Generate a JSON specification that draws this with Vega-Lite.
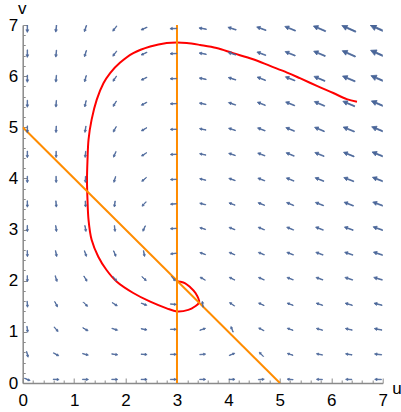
{
  "$schema": "https://vega.github.io/schema/vega-lite/v6.json",
  "width": 360,
  "height": 358,
  "autosize": "none",
  "padding": {"left": 22.7, "top": 25, "right": 18.3, "bottom": 29},
  "config": {"view": {"stroke": null}, "font": "Liberation Sans"},
  "resolve": {"axis": {"x": "independent", "y": "independent"}},
  "datasets": {
    "traj": [
      {"t": 1, "u": 6.5, "v": 5.5}, {"t": 2, "u": 6.3, "v": 5.55}, {"t": 3, "u": 6.04, "v": 5.67}, {"t": 4, "u": 5.72, "v": 5.81},
      {"t": 5, "u": 5.39, "v": 5.96}, {"t": 6, "u": 5.14, "v": 6.07}, {"t": 7, "u": 4.81, "v": 6.2}, {"t": 8, "u": 4.48, "v": 6.33},
      {"t": 9, "u": 4.09, "v": 6.45}, {"t": 10, "u": 3.77, "v": 6.55}, {"t": 11, "u": 3.45, "v": 6.61}, {"t": 12, "u": 3.19, "v": 6.65},
      {"t": 13, "u": 3.0, "v": 6.66}, {"t": 14, "u": 2.8, "v": 6.65}, {"t": 15, "u": 2.48, "v": 6.58}, {"t": 16, "u": 2.15, "v": 6.45},
      {"t": 17, "u": 1.89, "v": 6.26}, {"t": 18, "u": 1.7, "v": 6.06}, {"t": 19, "u": 1.57, "v": 5.86}, {"t": 20, "u": 1.44, "v": 5.54},
      {"t": 21, "u": 1.34, "v": 5.15}, {"t": 22, "u": 1.28, "v": 4.76}, {"t": 23, "u": 1.26, "v": 4.36}, {"t": 24, "u": 1.25, "v": 3.97},
      {"t": 25, "u": 1.26, "v": 3.58}, {"t": 26, "u": 1.28, "v": 3.19}, {"t": 27, "u": 1.34, "v": 2.8}, {"t": 28, "u": 1.47, "v": 2.47},
      {"t": 29, "u": 1.63, "v": 2.21}, {"t": 30, "u": 1.83, "v": 1.98}, {"t": 31, "u": 2.15, "v": 1.76}, {"t": 32, "u": 2.48, "v": 1.59},
      {"t": 33, "u": 2.8, "v": 1.46}, {"t": 34, "u": 3.0, "v": 1.4}, {"t": 35, "u": 3.22, "v": 1.43}, {"t": 36, "u": 3.34, "v": 1.49},
      {"t": 37, "u": 3.43, "v": 1.58}, {"t": 38, "u": 3.36, "v": 1.76}, {"t": 39, "u": 3.25, "v": 1.88}, {"t": 40, "u": 3.16, "v": 1.95},
      {"t": 41, "u": 3.06, "v": 1.98}, {"t": 42, "u": 2.99, "v": 1.99}
    ],
    "nullclines": [
      {"line": "a", "t": 1, "u": 0, "v": 5}, {"line": "a", "t": 2, "u": 5, "v": 0},
      {"line": "b", "t": 1, "u": 3, "v": 0}, {"line": "b", "t": 2, "u": 3, "v": 7}
    ],
    "field": [
      {"u":0.09,"v":0.07,"angle":112,"speed":0.5},{"u":0.09,"v":0.56,"angle":166,"speed":1.6},{"u":0.09,"v":1.05,"angle":173,"speed":3.1},{"u":0.09,"v":1.54,"angle":176,"speed":4.5},{"u":0.09,"v":2.04,"angle":178,"speed":5.9},{"u":0.09,"v":2.53,"angle":178,"speed":7.3},{"u":0.09,"v":3.02,"angle":179,"speed":8.8},{"u":0.09,"v":3.5,"angle":179,"speed":10.2},{"u":0.09,"v":3.98,"angle":180,"speed":11.6},{"u":0.09,"v":4.47,"angle":180,"speed":13.0},{"u":0.09,"v":4.96,"angle":180,"speed":14.5},{"u":0.09,"v":5.46,"angle":180,"speed":15.9},{"u":0.09,"v":5.95,"angle":180,"speed":17.3},{"u":0.09,"v":6.44,"angle":180,"speed":18.8},{"u":0.09,"v":6.93,"angle":180,"speed":20.2},
      {"u":0.65,"v":0.07,"angle":93,"speed":2.8},{"u":0.65,"v":0.56,"angle":118,"speed":2.8},{"u":0.65,"v":1.05,"angle":139,"speed":3.3},{"u":0.65,"v":1.54,"angle":153,"speed":4.0},{"u":0.65,"v":2.04,"angle":163,"speed":5.0},{"u":0.65,"v":2.53,"angle":169,"speed":6.0},{"u":0.65,"v":3.02,"angle":173,"speed":7.1},{"u":0.65,"v":3.5,"angle":176,"speed":8.2},{"u":0.65,"v":3.98,"angle":179,"speed":9.4},{"u":0.65,"v":4.47,"angle":-180,"speed":10.5},{"u":0.65,"v":4.96,"angle":-178,"speed":11.7},{"u":0.65,"v":5.46,"angle":-177,"speed":12.9},{"u":0.65,"v":5.95,"angle":-176,"speed":14.0},{"u":0.65,"v":6.44,"angle":-175,"speed":15.2},{"u":0.65,"v":6.93,"angle":-174,"speed":16.4},
      {"u":1.22,"v":0.07,"angle":91,"speed":4.5},{"u":1.22,"v":0.56,"angle":104,"speed":4.1},{"u":1.22,"v":1.05,"angle":119,"speed":3.8},{"u":1.22,"v":1.54,"angle":135,"speed":3.9},{"u":1.22,"v":2.04,"angle":149,"speed":4.2},{"u":1.22,"v":2.53,"angle":161,"speed":4.7},{"u":1.22,"v":3.02,"angle":170,"speed":5.4},{"u":1.22,"v":3.5,"angle":177,"speed":6.2},{"u":1.22,"v":3.98,"angle":-178,"speed":7.1},{"u":1.22,"v":4.47,"angle":-174,"speed":8.0},{"u":1.22,"v":4.96,"angle":-171,"speed":9.0},{"u":1.22,"v":5.46,"angle":-168,"speed":9.9},{"u":1.22,"v":5.95,"angle":-166,"speed":10.9},{"u":1.22,"v":6.44,"angle":-164,"speed":11.9},{"u":1.22,"v":6.93,"angle":-163,"speed":12.9},
      {"u":1.79,"v":0.07,"angle":91,"speed":5.6},{"u":1.79,"v":0.56,"angle":98,"speed":4.8},{"u":1.79,"v":1.05,"angle":108,"speed":4.1},{"u":1.79,"v":1.54,"angle":122,"speed":3.5},{"u":1.79,"v":2.04,"angle":139,"speed":3.2},{"u":1.79,"v":2.53,"angle":158,"speed":3.3},{"u":1.79,"v":3.02,"angle":174,"speed":3.7},{"u":1.79,"v":3.5,"angle":-173,"speed":4.3},{"u":1.79,"v":3.98,"angle":-164,"speed":5.0},{"u":1.79,"v":4.47,"angle":-157,"speed":5.9},{"u":1.79,"v":4.96,"angle":-152,"speed":6.8},{"u":1.79,"v":5.46,"angle":-149,"speed":7.7},{"u":1.79,"v":5.95,"angle":-146,"speed":8.7},{"u":1.79,"v":6.44,"angle":-143,"speed":9.7},{"u":1.79,"v":6.93,"angle":-142,"speed":10.7},
      {"u":2.36,"v":0.07,"angle":90,"speed":6.1},{"u":2.36,"v":0.56,"angle":94,"speed":4.9},{"u":2.36,"v":1.05,"angle":100,"speed":3.8},{"u":2.36,"v":1.54,"angle":111,"speed":2.8},{"u":2.36,"v":2.04,"angle":132,"speed":1.9},{"u":2.36,"v":2.53,"angle":170,"speed":1.6},{"u":2.36,"v":3.02,"angle":-156,"speed":2.1},{"u":2.36,"v":3.5,"angle":-138,"speed":3.0},{"u":2.36,"v":3.98,"angle":-129,"speed":4.1},{"u":2.36,"v":4.47,"angle":-123,"speed":5.2},{"u":2.36,"v":4.96,"angle":-120,"speed":6.4},{"u":2.36,"v":5.46,"angle":-118,"speed":7.5},{"u":2.36,"v":5.95,"angle":-116,"speed":8.7},{"u":2.36,"v":6.44,"angle":-115,"speed":9.9},{"u":2.36,"v":6.93,"angle":-114,"speed":11.1},
      {"u":2.93,"v":0.07,"angle":90,"speed":5.9},{"u":2.93,"v":0.56,"angle":90,"speed":4.5},{"u":2.93,"v":1.05,"angle":91,"speed":3.0},{"u":2.93,"v":1.54,"angle":94,"speed":1.6},{"u":2.93,"v":2.04,"angle":141,"speed":0.2},{"u":2.93,"v":2.53,"angle":-98,"speed":1.3},{"u":2.93,"v":3.02,"angle":-94,"speed":2.8},{"u":2.93,"v":3.5,"angle":-93,"speed":4.2},{"u":2.93,"v":3.98,"angle":-93,"speed":5.6},{"u":2.93,"v":4.47,"angle":-93,"speed":7.1},{"u":2.93,"v":4.96,"angle":-92,"speed":8.5},{"u":2.93,"v":5.46,"angle":-92,"speed":9.9},{"u":2.93,"v":5.95,"angle":-92,"speed":11.4},{"u":2.93,"v":6.44,"angle":-92,"speed":12.8},{"u":2.93,"v":6.93,"angle":-92,"speed":14.3},
      {"u":3.5,"v":0.07,"angle":90,"speed":5.0},{"u":3.5,"v":0.56,"angle":85,"speed":3.3},{"u":3.5,"v":1.05,"angle":72,"speed":1.7},{"u":3.5,"v":1.54,"angle":-8,"speed":0.8},{"u":3.5,"v":2.04,"angle":-61,"speed":2.1},{"u":3.5,"v":2.53,"angle":-71,"speed":3.8},{"u":3.5,"v":3.02,"angle":-74,"speed":5.5},{"u":3.5,"v":3.5,"angle":-76,"speed":7.2},{"u":3.5,"v":3.98,"angle":-77,"speed":8.9},{"u":3.5,"v":4.47,"angle":-78,"speed":10.7},{"u":3.5,"v":4.96,"angle":-78,"speed":12.4},{"u":3.5,"v":5.46,"angle":-79,"speed":14.1},{"u":3.5,"v":5.95,"angle":-79,"speed":15.9},{"u":3.5,"v":6.44,"angle":-80,"speed":17.6},{"u":3.5,"v":6.93,"angle":-80,"speed":19.4},
      {"u":4.07,"v":0.07,"angle":89,"speed":3.5},{"u":4.07,"v":0.56,"angle":69,"speed":1.7},{"u":4.07,"v":1.05,"angle":-22,"speed":1.2},{"u":4.07,"v":1.54,"angle":-56,"speed":2.9},{"u":4.07,"v":2.04,"angle":-64,"speed":5.0},{"u":4.07,"v":2.53,"angle":-67,"speed":7.0},{"u":4.07,"v":3.02,"angle":-69,"speed":9.1},{"u":4.07,"v":3.5,"angle":-70,"speed":11.1},{"u":4.07,"v":3.98,"angle":-71,"speed":13.2},{"u":4.07,"v":4.47,"angle":-72,"speed":15.2},{"u":4.07,"v":4.96,"angle":-72,"speed":17.3},{"u":4.07,"v":5.46,"angle":-72,"speed":19.3},{"u":4.07,"v":5.95,"angle":-73,"speed":21.4},{"u":4.07,"v":6.44,"angle":-73,"speed":23.5},{"u":4.07,"v":6.93,"angle":-73,"speed":25.6},
      {"u":4.64,"v":0.07,"angle":86,"speed":1.4},{"u":4.64,"v":0.56,"angle":-44,"speed":1.3},{"u":4.64,"v":1.05,"angle":-62,"speed":3.6},{"u":4.64,"v":1.54,"angle":-65,"speed":6.0},{"u":4.64,"v":2.04,"angle":-67,"speed":8.4},{"u":4.64,"v":2.53,"angle":-68,"speed":10.8},{"u":4.64,"v":3.02,"angle":-68,"speed":13.3},{"u":4.64,"v":3.5,"angle":-69,"speed":15.7},{"u":4.64,"v":3.98,"angle":-69,"speed":18.1},{"u":4.64,"v":4.47,"angle":-69,"speed":20.5},{"u":4.64,"v":4.96,"angle":-69,"speed":22.9},{"u":4.64,"v":5.46,"angle":-69,"speed":25.3},{"u":4.64,"v":5.95,"angle":-69,"speed":27.7},{"u":4.64,"v":6.44,"angle":-70,"speed":30.2},{"u":4.64,"v":6.93,"angle":-70,"speed":32.6},
      {"u":5.2,"v":0.07,"angle":-84,"speed":1.4},{"u":5.2,"v":0.56,"angle":-73,"speed":4.1},{"u":5.2,"v":1.05,"angle":-71,"speed":6.8},{"u":5.2,"v":1.54,"angle":-70,"speed":9.6},{"u":5.2,"v":2.04,"angle":-69,"speed":12.4},{"u":5.2,"v":2.53,"angle":-69,"speed":15.2},{"u":5.2,"v":3.02,"angle":-68,"speed":18.0},{"u":5.2,"v":3.5,"angle":-68,"speed":20.7},{"u":5.2,"v":3.98,"angle":-68,"speed":23.5},{"u":5.2,"v":4.47,"angle":-68,"speed":26.3},{"u":5.2,"v":4.96,"angle":-68,"speed":29.0},{"u":5.2,"v":5.46,"angle":-68,"speed":31.8},{"u":5.2,"v":5.95,"angle":-68,"speed":34.6},{"u":5.2,"v":6.44,"angle":-68,"speed":37.4},{"u":5.2,"v":6.93,"angle":-68,"speed":40.2},
      {"u":5.77,"v":0.07,"angle":-88,"speed":4.8},{"u":5.77,"v":0.56,"angle":-79,"speed":7.8},{"u":5.77,"v":1.05,"angle":-75,"speed":10.8},{"u":5.77,"v":1.54,"angle":-72,"speed":13.9},{"u":5.77,"v":2.04,"angle":-71,"speed":17.1},{"u":5.77,"v":2.53,"angle":-70,"speed":20.2},{"u":5.77,"v":3.02,"angle":-69,"speed":23.4},{"u":5.77,"v":3.5,"angle":-69,"speed":26.5},{"u":5.77,"v":3.98,"angle":-68,"speed":29.6},{"u":5.77,"v":4.47,"angle":-68,"speed":32.7},{"u":5.77,"v":4.96,"angle":-67,"speed":35.9},{"u":5.77,"v":5.46,"angle":-67,"speed":39.0},{"u":5.77,"v":5.95,"angle":-67,"speed":42.1},{"u":5.77,"v":6.44,"angle":-67,"speed":45.3},{"u":5.77,"v":6.93,"angle":-67,"speed":48.5},
      {"u":6.34,"v":0.07,"angle":-89,"speed":8.9},{"u":6.34,"v":0.56,"angle":-81,"speed":12.1},{"u":6.34,"v":1.05,"angle":-77,"speed":15.5},{"u":6.34,"v":1.54,"angle":-74,"speed":18.9},{"u":6.34,"v":2.04,"angle":-72,"speed":22.4},{"u":6.34,"v":2.53,"angle":-71,"speed":25.9},{"u":6.34,"v":3.02,"angle":-70,"speed":29.4},{"u":6.34,"v":3.5,"angle":-69,"speed":32.8},{"u":6.34,"v":3.98,"angle":-69,"speed":36.3},{"u":6.34,"v":4.47,"angle":-68,"speed":39.8},{"u":6.34,"v":4.96,"angle":-68,"speed":43.3},{"u":6.34,"v":5.46,"angle":-67,"speed":46.8},{"u":6.34,"v":5.95,"angle":-67,"speed":50.3},{"u":6.34,"v":6.44,"angle":-66,"speed":53.9},{"u":6.34,"v":6.93,"angle":-66,"speed":57.4},
      {"u":6.91,"v":0.07,"angle":-89,"speed":13.6},{"u":6.91,"v":0.56,"angle":-83,"speed":17.1},{"u":6.91,"v":1.05,"angle":-79,"speed":20.8},{"u":6.91,"v":1.54,"angle":-76,"speed":24.5},{"u":6.91,"v":2.04,"angle":-74,"speed":28.4},{"u":6.91,"v":2.53,"angle":-72,"speed":32.2},{"u":6.91,"v":3.02,"angle":-71,"speed":36.0},{"u":6.91,"v":3.5,"angle":-70,"speed":39.8},{"u":6.91,"v":3.98,"angle":-69,"speed":43.7},{"u":6.91,"v":4.47,"angle":-68,"speed":47.5},{"u":6.91,"v":4.96,"angle":-68,"speed":51.4},{"u":6.91,"v":5.46,"angle":-67,"speed":55.2},{"u":6.91,"v":5.95,"angle":-67,"speed":59.1},{"u":6.91,"v":6.44,"angle":-66,"speed":63.0},{"u":6.91,"v":6.93,"angle":-66,"speed":66.9}
    ]
  },
  "layer": [
    {
      "data": {"name": "traj"},
      "mark": {"type": "line", "color": "#ff0000", "strokeWidth": 2, "interpolate": "catmull-rom", "clip": true},
      "encoding": {
        "x": {
          "field": "u", "type": "quantitative",
          "scale": {"domain": [0, 7], "nice": false, "zero": false},
          "axis": {
            "orient": "bottom",
            "values": [0, 1, 2, 3, 4, 5, 6, 7],
            "format": "d",
            "labelOverlap": false, "labelFlush": false, "grid": false,
            "tickSize": -5,
            "tickColor": "#8a8a8a", "tickWidth": 1, "domainColor": "#8a8a8a", "domainWidth": 1.5,
            "labelFontSize": 17, "labelColor": "#000000", "labelPadding": 14,
            "title": "u", "titleX": 369, "titleY": 10.5, "titleAlign": "left", "titleBaseline": "alphabetic",
            "titleFontSize": 17, "titleFontWeight": "normal", "titleColor": "#000000"
          }
        },
        "y": {
          "field": "v", "type": "quantitative",
          "scale": {"domain": [0, 7], "nice": false, "zero": false},
          "axis": {
            "orient": "left",
            "values": [0, 1, 2, 3, 4, 5, 6, 7],
            "format": "d",
            "labelOverlap": false, "labelFlush": false, "grid": false,
            "tickSize": -4,
            "tickColor": "#8a8a8a", "tickWidth": 1, "domainColor": "#8a8a8a", "domainWidth": 1.5,
            "labelFontSize": 17, "labelColor": "#000000", "labelPadding": 9,
            "title": "v", "titleX": -1, "titleY": -11.5, "titleAngle": 0, "titleAlign": "center", "titleBaseline": "alphabetic",
            "titleFontSize": 17, "titleFontWeight": "normal", "titleColor": "#000000"
          }
        },
        "order": {"field": "t", "type": "quantitative"}
      }
    },
    {
      "data": {"name": "nullclines"},
      "mark": {"type": "line", "color": "#ff8c00", "strokeWidth": 2, "clip": true},
      "encoding": {
        "x": {
          "field": "u", "type": "quantitative",
          "axis": {
            "orient": "bottom",
            "values": [0.2,0.4,0.6,0.8,1.2,1.4,1.6,1.8,2.2,2.4,2.6,2.8,3.2,3.4,3.6,3.8,4.2,4.4,4.6,4.8,5.2,5.4,5.6,5.8,6.2,6.4,6.6,6.8],
            "labels": false, "domain": false, "grid": false, "title": null,
            "tickSize": -3, "tickColor": "#8a8a8a", "tickWidth": 1
          }
        },
        "y": {
          "field": "v", "type": "quantitative",
          "axis": {
            "orient": "left",
            "values": [0.2,0.4,0.6,0.8,1.2,1.4,1.6,1.8,2.2,2.4,2.6,2.8,3.2,3.4,3.6,3.8,4.2,4.4,4.6,4.8,5.2,5.4,5.6,5.8,6.2,6.4,6.6,6.8],
            "labels": false, "domain": false, "grid": false, "title": null,
            "tickSize": -2.5, "tickColor": "#8a8a8a", "tickWidth": 1
          }
        },
        "detail": {"field": "line", "type": "nominal"},
        "order": {"field": "t", "type": "quantitative"}
      }
    },
    {
      "data": {"name": "field"},
      "mark": {"type": "point", "shape": "M0,-1L0.36,-0.3L0.08,-0.3L0.08,1L-0.08,1L-0.08,-0.3L-0.36,-0.3Z", "filled": true, "color": "#4a6699", "stroke": "#4a6699", "strokeWidth": 0.7, "strokeJoin": "round", "opacity": 1, "clip": true},
      "encoding": {
        "x": {"field": "u", "type": "quantitative", "axis": null},
        "y": {"field": "v", "type": "quantitative", "axis": null},
        "angle": {"field": "angle", "type": "quantitative", "scale": null},
        "size": {"field": "speed", "type": "quantitative", "scale": {"type": "pow", "exponent": 2, "domain": [0, 67], "range": [36, 300]}, "legend": null}
      }
    }
  ]
}
